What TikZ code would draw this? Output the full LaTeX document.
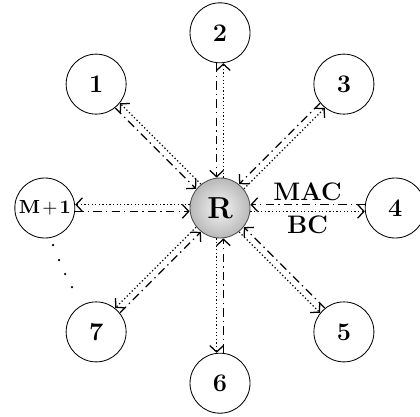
\documentclass[tikz,border=0pt]{standalone}
\usepackage{amssymb}
\usepackage{tikz}
\usetikzlibrary{arrows.meta}
\tikzset{
    >={Straight Barb[length=3pt,width=6.5pt]},
    user/.style={draw,circle,minimum size=1cm,inner sep=0pt,font=\large\bfseries},
    relay/.style={draw=gray!60!black,circle,minimum size=1cm,inner sep=0pt,
        inner color=gray!8,outer color=gray!55,font=\Large},
    downlink/.style={->,line width=0.6pt,dash pattern=on 0.6pt off 1.1pt},
    uplink/.style={->,line width=0.6pt,dash pattern=on 4pt off 2pt on 0.6pt off 2pt}
}
\newcommand{\drawlink}[2]{
    \draw[downlink,transform canvas={shift={(#1-90:1.6pt)}}] (R) -- (#2);
    \draw[uplink,transform canvas={shift={(#1+90:1.6pt)}}] (#2) -- (R);
}

\begin{document}
\begin{tikzpicture}
	\useasboundingbox (-3.667,-3.467) rectangle (3.333,3.467);

	\node[relay] (R) at (0,0) {\textbf{R}};

	\node[user] (n1) at (135:2.92) {1};
	\node[user] (n2) at (90:2.92) {2};
	\node[user] (n3) at (45:2.92) {3};
	\node[user] (n4) at (0:2.92) {4};
	\node[user] (n5) at (-45:2.92) {5};
	\node[user] (n6) at (-90:2.92) {6};
	\node[user] (n7) at (-135:2.92) {7};
	\node[user,font=\small] (nM) at (180:2.92) {\medmuskip=2mu $\mathbf{M+1}$};

	\foreach \a/\n in {135/n1,90/n2,45/n3,0/n4,-45/n5,-90/n6,-135/n7,180/nM}
		{\drawlink{\a}{\n}}

	\path (R) -- (n4) node[midway,above,font=\large\bfseries] {MAC}
	                  node[midway,below,font=\large\bfseries] {BC};

	% dots between M+1 and 7
	\foreach \p in {(-2.783,-0.617),(-2.683,-0.867),(-2.583,-1.1),(-2.467,-1.317)}
		\fill \p circle (0.6pt);
\end{tikzpicture}
\end{document}
